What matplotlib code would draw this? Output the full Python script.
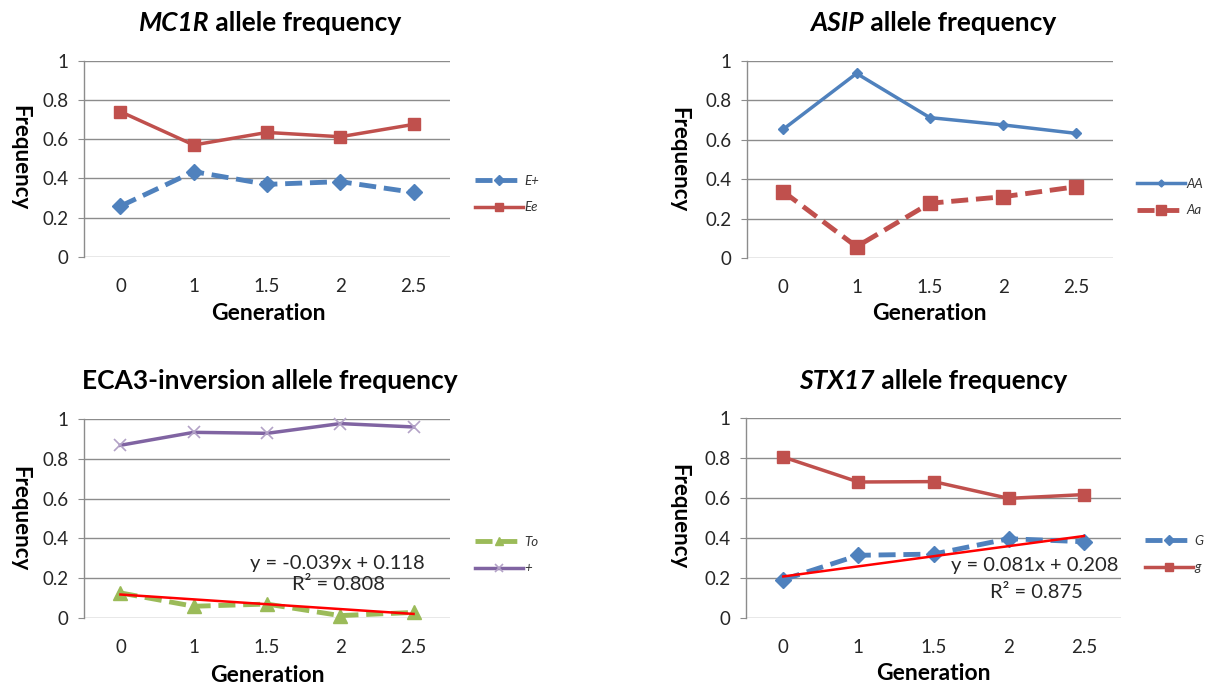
import matplotlib
matplotlib.use("Agg")
import matplotlib.pyplot as plt
import numpy as np

plt.rcParams['font.family'] = ['Lato', 'DejaVu Sans']

generations = ["0", "1", "1.5", "2", "2.5"]
gen_values = [0, 1, 1.5, 2, 2.5]

mc1r_Eplus = [0.258, 0.434, 0.369, 0.383, 0.328]
mc1r_Ee = [0.740, 0.570, 0.634, 0.612, 0.675]

asip_AA = [0.654, 0.937, 0.713, 0.676, 0.633]
asip_Aa = [0.338, 0.059, 0.279, 0.312, 0.363]

eca3_To = [0.126, 0.059, 0.070, 0.012, 0.028]
eca3_plus = [0.868, 0.933, 0.928, 0.977, 0.960]
eca3_trend = (-0.039, 0.118, 0.808)

stx17_G = [0.192, 0.314, 0.320, 0.397, 0.382]
stx17_g = [0.806, 0.681, 0.683, 0.599, 0.618]
stx17_trend = (0.081, 0.208, 0.875)

BLUE = '#4F81BD'
RED = '#C0504D'
GREEN = '#9BBB59'
PURPLE = '#8064A2'
GRID = '#8C8C8C'
TXT = '#262626'
DASH = (0, (3.5, 1.6))

W, H = 1210, 686
fig = plt.figure(figsize=(W / 100, H / 100), dpi=100)


def px_axes(left, right, top, bottom):
    return fig.add_axes([left / W, 1 - bottom / H, (right - left) / W, (bottom - top) / H])


def style(ax):
    ax.set_ylim(0, 1)
    ax.set_xlim(-0.5, 4.5)
    ax.set_yticks([0, 0.2, 0.4, 0.6, 0.8, 1.0])
    ax.set_yticklabels(["0", "0.2", "0.4", "0.6", "0.8", "1"])
    ax.set_xticks(range(len(generations)))
    ax.set_xticklabels(generations)
    for s in ['top', 'right', 'bottom']:
        ax.spines[s].set_visible(False)
    ax.spines['left'].set_color(GRID)
    ax.spines['left'].set_linewidth(1.0)
    ax.yaxis.grid(True, color=GRID, linewidth=1.0)
    ax.set_axisbelow(True)
    ax.tick_params(axis='y', length=4, color=GRID, labelsize=13.5, labelcolor=TXT, pad=7)
    ax.tick_params(axis='x', length=0, labelsize=13.5, labelcolor=TXT, pad=15)


def ptext(x, y, s, **kw):
    return fig.text(x / W, 1 - y / H, s, **kw)


def title(cx, cy, ital, rest):
    t1 = ptext(0, cy, ital, fontsize=19, fontweight='bold', fontstyle='italic',
               va='center', ha='left', color='black')
    t2 = ptext(0, cy, rest, fontsize=19, fontweight='bold',
               va='center', ha='left', color='black')
    fig.canvas.draw()
    r = fig.canvas.get_renderer()
    w1 = t1.get_window_extent(r).width if ital else 0
    w2 = t2.get_window_extent(r).width
    x0 = cx - (w1 + w2) / 2
    t1.set_x(x0 / W)
    t2.set_x((x0 + w1) / W)


def labels(gx, gy, fx, fy):
    ptext(gx, gy, "Generation", fontsize=16.5, fontweight='bold',
          ha='center', va='center', color='black')
    ptext(fx, fy, "Frequency", fontsize=16, fontweight='bold',
          ha='center', va='center', rotation=-90, color='black')


def legend(ax, x, y):
    leg = ax.legend(loc='center left', bbox_to_anchor=(x / W, 1 - y / H),
                    bbox_transform=fig.transFigure, frameon=False,
                    prop={'size': 9.5, 'style': 'italic'}, labelspacing=1.1,
                    handlelength=3.6, handletextpad=0.15, borderaxespad=0,
                    borderpad=0, markerscale=0.65)
    for t in leg.get_texts():
        t.set_color('#333333')


def trend(ax, coef):
    slope, icpt, _ = coef
    ends = [gen_values[0], gen_values[-1]]
    ax.plot([xs[0], xs[-1]], [icpt + slope * g for g in ends], color='#FF0000',
            lw=1.8, zorder=5)


xs = np.arange(len(generations))

# MC1R
ax1 = px_axes(83.8, 450.2, 60.7, 256.7)
style(ax1)
ax1.plot(xs, mc1r_Eplus, color=BLUE, lw=3.5, ls=DASH, marker='D', ms=8.5,
         label='E+', clip_on=False)
ax1.plot(xs, mc1r_Ee, color=RED, lw=2.5, marker='s', ms=8, label='Ee', clip_on=False)
legend(ax1, 475, 194)
labels(268, 314, 20, 158)

# ASIP
ax2 = px_axes(746.6, 1113.1, 61, 258.3)
style(ax2)
ax2.plot(xs, asip_AA, color=BLUE, lw=2.5, marker='D', ms=5.5, label='AA', clip_on=False)
ax2.plot(xs, asip_Aa, color=RED, lw=3.5, ls=DASH, marker='s', ms=10,
         label='Aa', clip_on=False)
legend(ax2, 1137, 197)
labels(929, 314, 679, 160)

# ECA3
ax3 = px_axes(83.8, 450.2, 419, 618)
style(ax3)
ax3.plot(xs, eca3_To, color=GREEN, lw=3.5, ls=DASH, marker='^', ms=9.5,
         label='To', clip_on=False)
ax3.plot(xs, eca3_plus, color=PURPLE, lw=2.5, marker='x', ms=9, mew=1.2,
         markeredgecolor='#B3A2C7', label='+', clip_on=False)
trend(ax3, eca3_trend)
ptext(337.6, 563.7, "y = -0.039x + 0.118", fontsize=14.5, color=TXT, ha='center', va='center')
ptext(338.6, 585, "R\u00b2 = %.3f" % eca3_trend[2], fontsize=14.5, color=TXT,
      ha='center', va='center')
legend(ax3, 475, 555)
labels(267, 675, 20, 519)

# STX17
ax4 = px_axes(745.7, 1121.4, 418.3, 618)
style(ax4)
ax4.plot(xs, stx17_G, color=BLUE, lw=3.5, ls=DASH, marker='D', ms=8.5,
         label='G', clip_on=False)
ax4.plot(xs, stx17_g, color=RED, lw=2.5, marker='s', ms=8.5, label='g', clip_on=False)
trend(ax4, stx17_trend)
ptext(1035, 565.7, "y = 0.081x + 0.208", fontsize=14.5, color=TXT, ha='center', va='center')
ptext(1036, 593, "R\u00b2 = %.3f" % stx17_trend[2], fontsize=14.5, color=TXT,
      ha='center', va='center')
legend(ax4, 1145, 554)
labels(933, 673, 679, 517)

title(270, 23.3, "MC1R", " allele frequency")
title(933, 23, "ASIP", " allele frequency")
title(270, 381.3, "", "ECA3-inversion allele frequency")
title(933, 381, "STX17", " allele frequency")

fig.savefig("out.png", dpi=100)
